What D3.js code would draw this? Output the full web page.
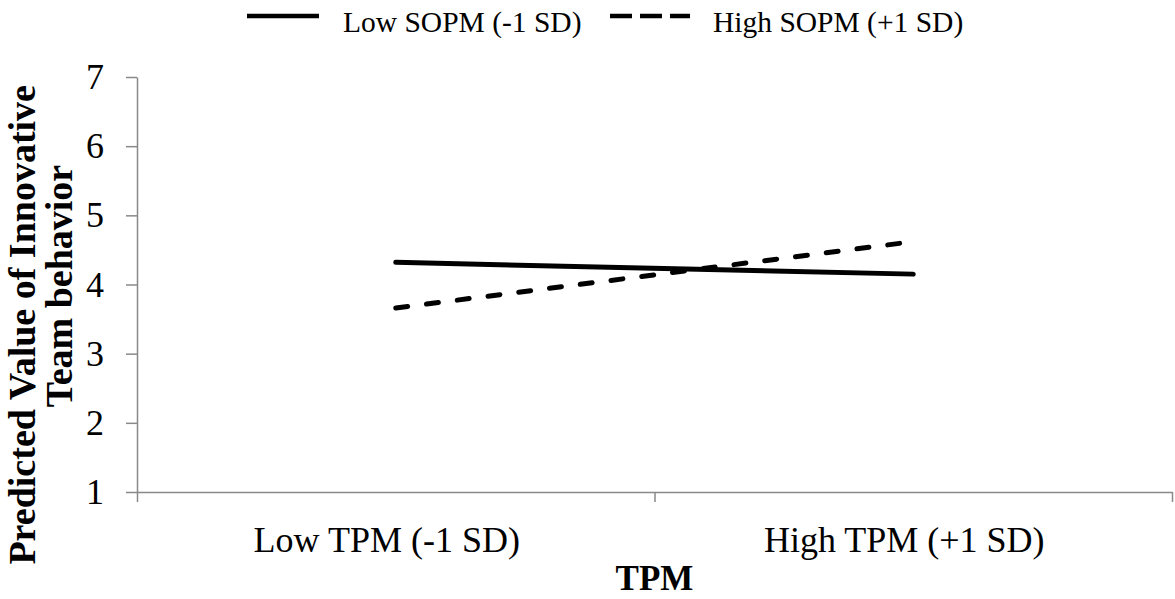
<!DOCTYPE html>
<html>
<head>
<meta charset="utf-8">
<script src="https://cdn.jsdelivr.net/npm/d3@7"></script>
<style>
  html, body { margin: 0; padding: 0; background: #fff; }
  svg { display: block; }
  text { font-family: "Liberation Serif", "Times New Roman", serif; fill: #000; }
</style>
</head>
<body>
<div id="chart"></div>
<script>
// chart data
const categories = ["Low TPM (-1 SD)", "High TPM (+1 SD)"]
const seriesNames = ["Low SOPM (-1 SD)", "High SOPM (+1 SD)"]
const lowSOPM = [4.32, 4.15]
const highSOPM = [3.66, 4.62]
const yTicks = [1, 2, 3, 4, 5, 6, 7]
const xTitle = "TPM"
const yTitleLines = ["Predicted Value of Innovative", "Team behavior"]

const width = 1175, height = 599
const margin = { top: 77, right: 3, bottom: 107, left: 137 }
const axisColor = "#898989"
const serif = "Liberation Serif, Times New Roman, serif"

const svg = d3.select("#chart").append("svg")
  .attr("width", width)
  .attr("height", height)

const x = d3.scaleBand()
  .domain(categories)
  .range([margin.left, width - margin.right])

const y = d3.scaleLinear()
  .domain([1, 7])
  .range([height - margin.bottom, margin.top])

// boundary ticks of the category axis sit between categories
const xb = d3.scaleLinear()
  .domain([0, categories.length])
  .range(x.range())

// y axis
const yAxis = svg.append("g")
  .attr("transform", `translate(${margin.left},0)`)
  .call(d3.axisLeft(y).tickValues(yTicks).tickFormat(d3.format("d"))
    .tickSize(11).tickSizeOuter(0).tickPadding(22))
yAxis.selectAll("text")
  .attr("font-size", "36px")
  .attr("font-family", serif)
  .attr("fill", "#000")
yAxis.selectAll(".domain, .tick line")
  .attr("stroke", axisColor)
  .attr("stroke-width", 1.5)

// x axis line + boundary ticks
const xAxis = svg.append("g")
  .attr("transform", `translate(0,${y(1)})`)
  .call(d3.axisBottom(xb).tickValues(d3.range(0, categories.length + 1))
    .tickSize(10).tickSizeOuter(0).tickFormat(""))
xAxis.selectAll(".domain, .tick line")
  .attr("stroke", axisColor)
  .attr("stroke-width", 1.5)

// category labels
const xLabels = svg.append("g")
  .attr("transform", `translate(-9,${y(1)})`)
  .call(d3.axisBottom(x).tickSize(0).tickPadding(34))
xLabels.select(".domain").remove()
xLabels.selectAll("text")
  .attr("font-size", "36px")
  .attr("font-family", serif)
  .attr("fill", "#000")

// axis titles
svg.append("text")
  .attr("x", xb(1))
  .attr("y", 590)
  .attr("text-anchor", "middle")
  .attr("font-size", "35px")
  .attr("font-weight", "bold")
  .text(xTitle)

svg.append("text")
  .attr("transform", "translate(35,85) rotate(-90)")
  .attr("text-anchor", "end")
  .attr("font-size", "38px")
  .attr("font-weight", "bold")
  .text(yTitleLines[0])

svg.append("text")
  .attr("transform", "translate(72,286) rotate(-90)")
  .attr("text-anchor", "middle")
  .attr("font-size", "38px")
  .attr("font-weight", "bold")
  .text(yTitleLines[1])

// series lines
const line = d3.line()
  .x((d, i) => x(categories[i]) + x.bandwidth() / 2)
  .y(d => y(d))

svg.append("path")
  .datum(lowSOPM)
  .attr("d", line)
  .attr("fill", "none")
  .attr("stroke", "#000")
  .attr("stroke-width", 5)
  .attr("stroke-linecap", "round")

svg.append("path")
  .datum(highSOPM)
  .attr("d", line)
  .attr("fill", "none")
  .attr("stroke", "#000")
  .attr("stroke-width", 5)
  .attr("stroke-linecap", "round")
  .attr("stroke-dasharray", "12,19")

// legend
const legend = [
  { name: seriesNames[0], x1: 247, x2: 319, tx: 343, dash: null },
  { name: seriesNames[1], x1: 610, x2: 690, tx: 713, dash: "22,8" }
]
const lg = svg.append("g").attr("class", "legend")
legend.forEach(d => {
  lg.append("line")
    .attr("x1", d.x1).attr("x2", d.x2)
    .attr("y1", 16).attr("y2", 16)
    .attr("stroke", "#000")
    .attr("stroke-width", 4.5)
    .attr("stroke-dasharray", d.dash)
  lg.append("text")
    .attr("x", d.tx)
    .attr("y", 32)
    .attr("font-size", "29.5px")
    .text(d.name)
})
</script>
</body>
</html>
